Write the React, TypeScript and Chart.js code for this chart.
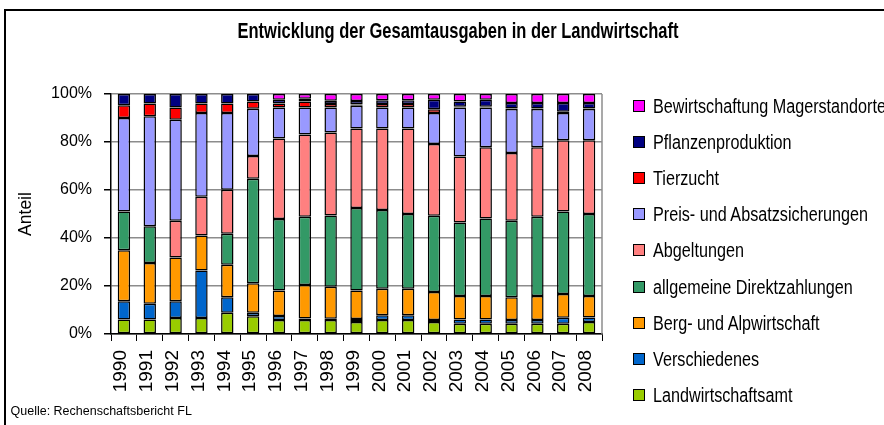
import React, { useEffect, useRef } from "react";
import { Chart, registerables } from "chart.js";

Chart.register(...registerables);

const years = ["1990","1991","1992","1993","1994","1995","1996","1997","1998","1999","2000","2001","2002","2003","2004","2005","2006","2007","2008"];

const landwirtschaftsamt = [6.0,6.0,6.7,6.7,8.9,7.4,5.8,5.8,5.8,5.0,5.8,5.8,5.0,4.3,4.3,4.3,4.3,4.3,5.0];
const verschiedenes = [7.6,6.6,6.9,19.8,6.4,1.5,1.7,0.7,0.6,1.2,2.0,2.0,0.8,1.7,1.7,1.5,1.5,2.5,1.9];
const bergAlp = [21.3,17.0,18.3,14.5,13.6,12.2,10.6,13.9,13.3,11.9,11.1,11.1,11.7,9.8,9.8,9.5,10.0,9.9,8.9];
const direktzahlungen = [16.1,15.3,null,null,12.9,43.6,29.8,28.5,29.7,34.4,32.8,31.1,31.8,30.7,32.3,31.9,33.1,34.3,34.2];
const abgeltungen = [null,null,15.3,16.2,18.3,9.5,33.6,34.2,34.6,33.1,33.9,35.6,29.9,27.5,29.7,28.2,28.9,29.7,30.7];
const preisAbsatz = [39.0,45.8,42.1,34.9,32.0,19.7,12.9,11.3,10.4,9.5,8.8,8.8,12.9,20.4,16.6,18.4,16.0,11.4,13.1];
const tierzucht = [5.3,5.3,5.1,3.9,3.9,3.0,1.6,2.5,1.4,0.5,1.4,1.4,1.5,0.3,0.3,0.2,0.2,0.5,0.2];
const pflanzen = [4.7,4.0,5.6,4.0,4.0,3.1,1.6,1.1,1.4,1.5,1.6,1.6,4.0,2.2,2.9,2.2,2.2,3.6,2.2];
const mager = [null,null,null,null,null,null,2.4,2.0,2.8,2.9,2.6,2.6,2.4,3.1,2.4,3.8,3.8,3.8,3.8];

const seriesNames = [
  "Landwirtschaftsamt",
  "Verschiedenes",
  "Berg- und Alpwirtschaft",
  "allgemeine Direktzahlungen",
  "Abgeltungen",
  "Preis- und Absatzsicherungen",
  "Tierzucht",
  "Pflanzenproduktion",
  "Bewirtschaftung Magerstandorte",
];
const seriesValues = [landwirtschaftsamt, verschiedenes, bergAlp, direktzahlungen, abgeltungen, preisAbsatz, tierzucht, pflanzen, mager];
const seriesColors = ["#99CC00","#0066CC","#FF9900","#339966","#FF8080","#9999FF","#FF0000","#000080","#FF00FF"];

const yTicks = [0, 20, 40, 60, 80, 100];

const FONT = "'Liberation Sans', Arial, sans-serif";

export default function App() {
  const ref = useRef<HTMLCanvasElement>(null);

  useEffect(() => {
    if (!ref.current) return;
    const frame = {
      id: "plotFrame",
      afterDatasetsDraw(chart: any) {
        const { ctx, chartArea } = chart;
        ctx.save();
        ctx.strokeStyle = "#8c8c8c";
        ctx.lineWidth = 1.5;
        ctx.beginPath();
        ctx.moveTo(chartArea.right, chartArea.top);
        ctx.lineTo(chartArea.right, chartArea.bottom);
        ctx.stroke();
        ctx.restore();
      },
    };
    const chart = new Chart(ref.current, {
      type: "bar",
      data: {
        labels: years,
        datasets: seriesValues.map((v, i) => ({
          label: seriesNames[i],
          data: v,
          backgroundColor: seriesColors[i],
          borderColor: "#000",
          borderWidth: 1.5,
          borderSkipped: false,
          barPercentage: 0.48,
          categoryPercentage: 1,
        })),
      },
      options: {
        responsive: false,
        animation: false,
        devicePixelRatio: 1,
        layout: { padding: { left: 10, top: 94, right: 282, bottom: 0 } },
        plugins: {
          legend: { display: false },
          tooltip: { enabled: false },
          title: { display: false },
        },
        scales: {
          x: {
            stacked: true,
            grid: { offset: true, drawOnChartArea: false, tickLength: 7, color: "#000", lineWidth: 1 },
            border: { color: "#000", width: 1.5 },
            ticks: {
              autoSkip: false,
              minRotation: 90,
              maxRotation: 90,
              padding: 9,
              labelOffset: -3,
              color: "#000",
              font: { family: FONT, size: 19 },
            },
            afterFit: (s: any) => { s.height = 91; },
          },
          y: {
            stacked: true,
            min: 0,
            max: 100,
            afterBuildTicks: (s: any) => { s.ticks = yTicks.map((v) => ({ value: v })); },
            ticks: {
              callback: (v: any) => v + "%",
              padding: 12,
              color: "#000",
              font: { family: FONT, size: 16 },
            },
            grid: {
              color: "#8c8c8c",
              lineWidth: 1.5,
              tickColor: "#000",
              tickLength: 7,
            },
            border: { color: "#000", width: 1.5 },
            title: {
              display: true,
              text: "Anteil",
              color: "#000",
              font: { family: FONT, size: 17.5 },
              padding: { top: 6, bottom: 0 },
            },
            afterFit: (s: any) => { s.width = 101; },
          },
        },
      },
      plugins: [frame],
    });
    return () => chart.destroy();
  }, []);

  return (
    <div style={{ position: "absolute", left: 0, top: 0, width: 884, height: 425, overflow: "hidden", background: "#fff" }}>
      <div style={{ position: "absolute", left: 4, top: 9, width: 900, height: 430, border: "2px solid #000", boxSizing: "border-box" }} />
      <canvas ref={ref} width={884} height={425} style={{ position: "absolute", left: 0, top: 0, width: 884, height: 425 }} />
      <div style={{ position: "absolute", left: 458, top: 17.7, whiteSpace: "nowrap", transform: "translateX(-50%) scaleX(0.75)", fontFamily: FONT, fontWeight: "bold", fontSize: 22, lineHeight: "26px", color: "#000" }}>
        Entwicklung der Gesamtausgaben in der Landwirtschaft
      </div>
      {seriesNames.map((name, i) => {
        const idx = seriesNames.length - 1 - i;
        const cy = 105.5 + i * 36.2;
        return (
          <div key={name} style={{ position: "absolute", left: 633, top: cy - 12, height: 24, display: "flex", alignItems: "center", whiteSpace: "nowrap" }}>
            <span style={{ display: "inline-block", width: 12, height: 12, flex: "none", boxSizing: "border-box", border: "1.5px solid #000", background: seriesColors[idx] }} />
            <span style={{ marginLeft: 8, fontFamily: FONT, fontSize: 19.5, lineHeight: "24px", color: "#000", transform: "scaleX(0.83)", transformOrigin: "0 50%" }}>{seriesNames[idx]}</span>
          </div>
        );
      })}
      <div style={{ position: "absolute", left: 10.5, top: 404, fontFamily: FONT, fontSize: 12.5, lineHeight: "15px", color: "#000", whiteSpace: "nowrap" }}>
        Quelle: Rechenschaftsbericht FL
      </div>
    </div>
  );
}
